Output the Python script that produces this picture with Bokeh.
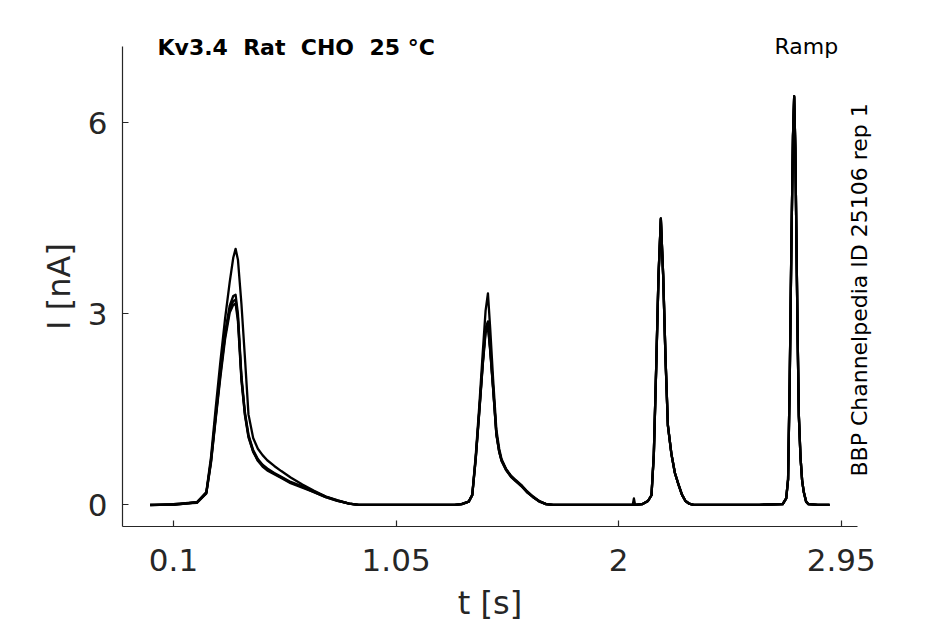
import math
from bokeh.plotting import figure
from bokeh.models import Range1d, FixedTicker, Label, ColumnDataSource
from bokeh.embed import file_html
from bokeh.resources import INLINE

# ---- data ----
t_s = [0.00, 0.10, 0.20, 0.24, 0.26, 0.28, 0.30, 0.32, 0.34, 0.355, 0.365, 0.375,
       0.39, 0.405, 0.42, 0.44, 0.46, 0.48, 0.50, 0.53, 0.56, 0.60, 0.65, 0.70,
       0.75, 0.80, 0.85, 0.89, 1.00, 1.10, 1.20,
       1.30, 1.33, 1.36, 1.375, 1.39, 1.405, 1.42, 1.432, 1.442, 1.452, 1.464,
       1.478, 1.49, 1.50, 1.52, 1.54, 1.56, 1.585, 1.61, 1.635, 1.66, 1.69, 1.72,
       1.80, 1.90, 2.00, 2.06, 2.065, 2.07, 2.10,
       2.125, 2.14, 2.15, 2.16, 2.17, 2.18, 2.19, 2.20, 2.21, 2.225, 2.24, 2.255,
       2.27, 2.285, 2.30, 2.32, 2.40, 2.50, 2.60, 2.70,
       2.715, 2.723, 2.73, 2.737, 2.744, 2.749, 2.754, 2.759, 2.764, 2.769, 2.776,
       2.783, 2.79, 2.80, 2.81, 2.85, 2.90]

i_rep1 = [0.00, 0.01, 0.04, 0.20, 0.75, 1.52, 2.25, 2.92, 3.50, 3.88, 4.02, 3.85,
          3.15, 2.30, 1.42, 1.05, 0.88, 0.78, 0.70, 0.61, 0.53, 0.43, 0.32, 0.22,
          0.13, 0.07, 0.02, 0.00, 0.00, 0.00, 0.00,
          0.00, 0.01, 0.05, 0.16, 0.78, 1.55, 2.40, 3.05, 3.32, 2.75, 1.98,
          1.18, 0.88, 0.72, 0.56, 0.46, 0.39, 0.31, 0.21, 0.13, 0.06, 0.01, 0.00,
          0.00, 0.00, 0.00, 0.00, 0.00, 0.00, 0.01,
          0.06, 0.15, 0.80, 2.15, 3.60, 4.50, 3.60, 2.30, 1.25, 0.80, 0.50, 0.32,
          0.16, 0.06, 0.02, 0.00, 0.00, 0.00, 0.00, 0.01,
          0.10, 0.40, 1.95, 4.05, 5.80, 6.42, 5.60, 4.05, 2.60, 1.40, 0.75,
          0.38, 0.20, 0.05, 0.01, 0.00, 0.00]

i_rep2 = [0.00, 0.00, 0.04, 0.19, 0.70, 1.40, 2.10, 2.70, 3.13, 3.28, 3.30, 3.00,
          2.02, 1.45, 1.10, 0.86, 0.72, 0.63, 0.57, 0.50, 0.44, 0.36, 0.29, 0.21,
          0.13, 0.07, 0.02, 0.00, 0.00, 0.00, 0.00,
          0.00, 0.01, 0.05, 0.15, 0.74, 1.48, 2.25, 2.78, 2.88, 2.45, 1.85,
          1.12, 0.84, 0.70, 0.55, 0.45, 0.38, 0.30, 0.20, 0.12, 0.06, 0.01, 0.00,
          0.00, 0.00, 0.00, 0.00, 0.00, 0.00, 0.01,
          0.06, 0.15, 0.78, 2.12, 3.58, 4.48, 3.58, 2.28, 1.24, 0.80, 0.50, 0.32,
          0.16, 0.06, 0.02, 0.00, 0.00, 0.00, 0.00, 0.01,
          0.10, 0.40, 1.93, 4.02, 5.78, 6.40, 5.58, 4.03, 2.58, 1.40, 0.75,
          0.38, 0.20, 0.05, 0.01, 0.00, 0.00]

i_rep3 = [-0.01, 0.01, 0.03, 0.18, 0.66, 1.34, 2.00, 2.60, 3.02, 3.14, 3.16, 2.88,
          1.95, 1.40, 1.06, 0.83, 0.69, 0.60, 0.54, 0.48, 0.42, 0.34, 0.27, 0.20,
          0.12, 0.06, 0.02, 0.00, 0.00, 0.00, 0.00,
          0.00, 0.01, 0.05, 0.15, 0.72, 1.45, 2.20, 2.70, 2.80, 2.40, 1.82,
          1.10, 0.83, 0.69, 0.54, 0.44, 0.37, 0.29, 0.19, 0.12, 0.05, 0.01, 0.00,
          0.00, 0.00, 0.00, 0.00, 0.00, 0.00, 0.01,
          0.06, 0.15, 0.79, 2.14, 3.59, 4.49, 3.59, 2.29, 1.25, 0.80, 0.50, 0.32,
          0.16, 0.06, 0.02, 0.00, 0.00, 0.00, 0.00, 0.01,
          0.10, 0.40, 1.94, 4.04, 5.79, 6.41, 5.59, 4.04, 2.59, 1.40, 0.75,
          0.38, 0.20, 0.05, 0.01, 0.00, 0.00]

i_rep4 = [0.00, 0.00, 0.04, 0.18, 0.68, 1.37, 2.05, 2.65, 3.07, 3.20, 3.22, 2.94,
          1.98, 1.42, 1.08, 0.84, 0.70, 0.62, 0.56, 0.49, 0.43, 0.35, 0.28, 0.20,
          0.12, 0.06, 0.02, 0.00, 0.00, 0.00, 0.00,
          0.00, 0.01, 0.05, 0.15, 0.73, 1.46, 2.22, 2.74, 2.84, 2.42, 1.84,
          1.11, 0.84, 0.70, 0.55, 0.45, 0.38, 0.30, 0.20, 0.12, 0.06, 0.01, 0.00,
          0.00, 0.00, 0.00, 0.00, 0.10, 0.00, 0.01,
          0.06, 0.15, 0.80, 2.15, 3.60, 4.50, 3.60, 2.30, 1.25, 0.80, 0.50, 0.32,
          0.16, 0.06, 0.02, 0.00, 0.00, 0.00, 0.00, 0.01,
          0.10, 0.40, 1.95, 4.05, 5.80, 6.42, 5.60, 4.05, 2.60, 1.40, 0.75,
          0.38, 0.20, 0.05, 0.01, 0.00, 0.00]

x_ticks = [0.1, 1.05, 2.0, 2.95]
x_tick_labels = ["0.1", "1.05", "2", "2.95"]
y_ticks = [0, 3, 6]
y_tick_labels = ["0", "3", "6"]

title_text = "Kv3.4\u00a0 Rat\u00a0 CHO\u00a0 25 °C"
protocol_text = "Ramp"
source_text = "BBP Channelpedia ID 25106 rep 1"

FONT = "DejaVu Sans"
AX = "#262626"

# visible axes box (data units)
X0, X1 = -0.1177, 3.0193
Y0, Y1 = -0.341, 7.198

# the frame covers the whole canvas; the axes are placed at fixed locations
p = figure(width=945, height=624,
           x_range=Range1d(-0.6384, 3.3949), y_range=Range1d(-1.880, 7.921),
           output_backend="svg", toolbar_location=None, min_border=0)
p.outline_line_color = None
p.grid.visible = False
p.background_fill_color = "white"
p.border_fill_color = "white"

for ys in (i_rep1, i_rep2, i_rep3, i_rep4):
    src = ColumnDataSource(dict(t=t_s, i=ys))
    p.line("t", "i", source=src, line_color="black", line_width=2.3,
           line_join="round")

for ax in (p.xaxis[0], p.yaxis[0]):
    ax.axis_line_color = AX
    ax.axis_line_width = 1.2
    ax.major_tick_line_color = AX
    ax.major_tick_line_width = 1.2
    ax.major_tick_in = 6
    ax.major_tick_out = 0
    ax.minor_tick_line_color = None
    ax.major_label_text_font = FONT
    ax.major_label_text_font_size = "31px"
    ax.major_label_text_color = AX
    ax.axis_label_text_font = FONT
    ax.axis_label_text_font_size = "32px"
    ax.axis_label_text_font_style = "normal"
    ax.axis_label_text_color = AX

p.xaxis[0].ticker = FixedTicker(ticks=x_ticks)
p.xaxis[0].major_label_overrides = {v: s for v, s in zip(x_ticks, x_tick_labels)}
p.xaxis[0].axis_label = "t [s]"
p.xaxis[0].major_label_standoff = 22
p.xaxis[0].axis_label_standoff = 10
p.xaxis[0].fixed_location = Y0
p.xaxis[0].bounds = (X0, X1)

p.yaxis[0].ticker = FixedTicker(ticks=y_ticks)
p.yaxis[0].major_label_overrides = {v: s for v, s in zip(y_ticks, y_tick_labels)}
p.yaxis[0].axis_label = "I [nA]"
p.yaxis[0].major_label_standoff = 15
p.yaxis[0].axis_label_standoff = 7
p.yaxis[0].fixed_location = X0
p.yaxis[0].bounds = (Y0, Y1)

p.add_layout(Label(x=0.0317, y=7.182, text=title_text, text_font=FONT,
                   text_font_style="bold", text_font_size="22px",
                   text_color="black", text_align="left",
                   text_baseline="alphabetic"))
p.add_layout(Label(x=2.665, y=7.198, text=protocol_text, text_font=FONT,
                   text_font_size="22px", text_color="black",
                   text_align="left", text_baseline="alphabetic"))
p.add_layout(Label(x=3.028, y=0.444, text=source_text, text_font=FONT,
                   text_font_size="22px", text_color="black",
                   angle=math.pi / 2, text_align="left",
                   text_baseline="alphabetic"))

open("out.html", "w").write(file_html(p, INLINE))
